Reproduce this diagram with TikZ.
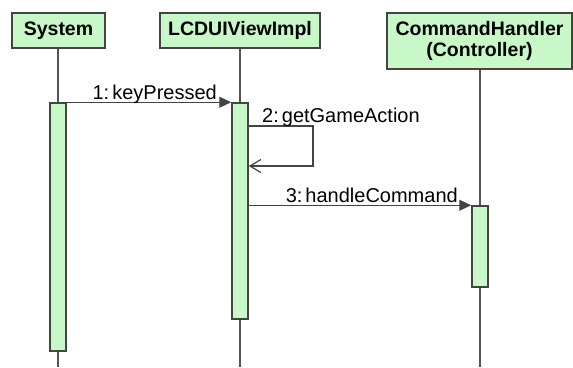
\documentclass[tikz,border=0pt]{standalone}
\usepackage{fontspec}
\setmainfont{Liberation Sans}
\usetikzlibrary{arrows.meta,calc}
\definecolor{actfill}{RGB}{200,248,200}
\definecolor{edge}{RGB}{68,68,68}
\definecolor{lifeln}{RGB}{85,85,85}
\newcommand{\seqgap}{\kern3pt}
\tikzset{
  header/.style={draw=edge, fill=actfill, line width=1.5pt, inner sep=0pt,
    font=\fontsize{19.5}{21.5}\selectfont\bfseries, align=center},
  activation/.style={draw=edge, fill=actfill, line width=1.5pt, inner sep=0pt,
    minimum width=16pt},
  lifeline/.style={draw=lifeln, line width=1.2pt},
  syncmsg/.style={draw=edge, line width=1.2pt,
    -{Triangle[length=12pt,width=11pt]}},
  selfmsg/.style={draw=edge, line width=1.2pt,
    -{Straight Barb[length=11pt,width=13pt,line width=1.2pt]}},
  msglabel/.style={inner sep=0pt, font=\fontsize{20}{22}\selectfont}
}
\begin{document}
\begin{tikzpicture}[x=1pt,y=-1pt]
\useasboundingbox (0,0) rectangle (573,367);

% participant headers
\node[header, minimum width=93pt, minimum height=35pt] (sys) at (58.5,30.5) {System};
\node[header, minimum width=160pt, minimum height=35pt] (lcd) at (240,30.5) {LCDUIViewImpl};
\node[header, minimum width=185pt, minimum height=56pt] (cmd) at (479.5,41) {CommandHandler\\(Controller)};

% lifeline ends at the bottom edge
\coordinate (sysend) at (58,367);
\coordinate (lcdend) at (240,367);
\coordinate (cmdend) at (480,367);

\draw[lifeline] (sys.south -| sysend) -- (sysend);
\draw[lifeline] (lcd.south -| lcdend) -- (lcdend);
\draw[lifeline] (cmd.south -| cmdend) -- (cmdend);

% activation bars
\node[activation, minimum height=248pt] (a1) at (58,227) {};
\node[activation, minimum height=216pt] (a2) at (240,211) {};
\node[activation, minimum height=81pt] (a3) at (480,246.5) {};

% 1: keyPressed
\draw[syncmsg] (a1.north east) -- (a2.north west);
\node[msglabel, anchor=base east] (l1) at (217,99.5) {1:\seqgap keyPressed};

% 2: getGameAction (self call)
\coordinate (s2out) at (313,126);
\coordinate (s2back) at (313,166);
\draw[selfmsg] (a2.east |- s2out) -- (s2out) -- (s2back) -- (a2.east |- s2back);
\node[msglabel, anchor=base west] (l2) at (262,122) {2:\seqgap getGameAction};

% 3: handleCommand
\draw[syncmsg] (a2.east |- a3.north west) -- (a3.north west);
\node[msglabel, anchor=base east] (l3) at (458,202) {3:\seqgap handleCommand};
\end{tikzpicture}
\end{document}
